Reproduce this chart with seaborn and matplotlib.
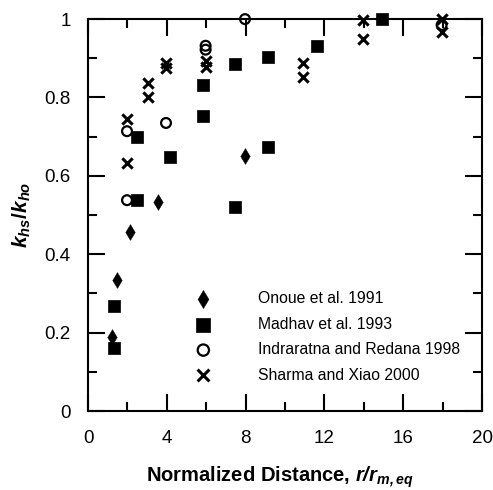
import matplotlib
matplotlib.use("Agg")
import matplotlib.pyplot as plt
import seaborn as sns
import pandas as pd
from matplotlib.ticker import MultipleLocator, FuncFormatter

# datos
onoue_x = [1.2, 1.46, 2.13, 3.54, 7.97]
onoue_y = [0.188, 0.334, 0.457, 0.533, 0.651]

madhav_x = [1.34, 1.34, 2.5, 2.5, 4.16, 5.82, 5.82, 7.48, 7.48, 9.15, 9.15, 11.64, 14.94]
madhav_y = [0.16, 0.268, 0.538, 0.70, 0.649, 0.753, 0.833, 0.885, 0.521, 0.904, 0.673, 0.932, 1.0]

indra_x = [1.98, 1.98, 3.96, 5.97, 5.97, 7.97, 17.95]
indra_y = [0.538, 0.714, 0.735, 0.932, 0.922, 1.0, 0.985]

sharma_x = [1.96, 1.96, 3.06, 3.06, 3.96, 3.96, 5.97, 5.97, 10.93, 10.93, 13.98, 13.98, 17.95, 17.95]
sharma_y = [0.744, 0.632, 0.838, 0.80, 0.887, 0.875, 0.894, 0.878, 0.887, 0.853, 0.999, 0.948, 1.0, 0.968]

series = ["Onoue et al. 1991", "Madhav et al. 1993",
          "Indraratna and Redana 1998", "Sharma and Xiao 2000"]

sns.set_style("ticks")
plt.rcParams['font.family'] = ['Liberation Sans', 'DejaVu Sans']
plt.rcParams['text.color'] = 'black'
plt.rcParams['axes.labelcolor'] = 'black'
plt.rcParams['xtick.color'] = 'black'
plt.rcParams['ytick.color'] = 'black'
plt.rcParams['axes.edgecolor'] = 'black'
plt.rcParams['mathtext.fontset'] = 'custom'
plt.rcParams['mathtext.rm'] = 'Liberation Sans'
plt.rcParams['mathtext.it'] = 'Liberation Sans:italic'
plt.rcParams['mathtext.bf'] = 'Liberation Sans:bold'
plt.rcParams['mathtext.bfit'] = 'Liberation Sans:bold:italic'

fig = plt.figure(figsize=(4.93, 4.9), dpi=100)
ax = fig.add_axes([0.1785, 0.1612, 0.7992, 0.7998])

df_on = pd.DataFrame({"x": onoue_x, "y": onoue_y})
df_ma = pd.DataFrame({"x": madhav_x, "y": madhav_y})
df_in = pd.DataFrame({"x": indra_x, "y": indra_y})
df_sh = pd.DataFrame({"x": sharma_x, "y": sharma_y})

sns.scatterplot(data=df_on, x="x", y="y", marker="d", s=65, color="black",
                edgecolor="black", linewidth=0.3, label=series[0], ax=ax, clip_on=False, zorder=3)
sns.scatterplot(data=df_ma, x="x", y="y", marker="s", s=80, color="black",
                edgecolor="black", linewidth=0.5, label=series[1], ax=ax, clip_on=False, zorder=3)
sns.scatterplot(data=df_in, x="x", y="y", marker="o", s=50, facecolor="none",
                edgecolor="black", linewidth=1.6, label=series[2], ax=ax, clip_on=False, zorder=3)
sns.scatterplot(data=df_sh, x="x", y="y", marker="x", s=55, color="black",
                linewidth=2.2, label=series[3], ax=ax, clip_on=False, zorder=3)

ax.set_xlim(0, 20)
ax.set_ylim(0, 1)
ax.xaxis.set_major_locator(MultipleLocator(4))
ax.xaxis.set_minor_locator(MultipleLocator(2))
ax.yaxis.set_major_locator(MultipleLocator(0.2))
ax.yaxis.set_minor_locator(MultipleLocator(0.1))
ax.yaxis.set_major_formatter(FuncFormatter(lambda v, p: f"{v:g}"))

ax.tick_params(which="both", direction="in", top=True, right=True, width=1.5,
               labelsize=13.5)
ax.tick_params(axis="x", which="both", pad=13.5)
ax.tick_params(axis="y", which="both", pad=12.5)
ax.tick_params(which="major", length=12)
ax.tick_params(which="minor", length=6.5)
for sp in ax.spines.values():
    sp.set_linewidth(1.5)
    sp.set_visible(True)

ax.set_xlabel(r"Normalized Distance, $\mathbfit{r/r}_{\mathbfit{m,eq}}$",
              fontsize=14.5, fontweight="bold")
ax.xaxis.set_label_coords(0.487, -0.137)
ax.set_ylabel(r"$\mathbfit{k}_{\mathbfit{hs}}\mathbf{/}\mathbfit{k}_{\mathbfit{ho}}$",
              fontsize=15, labelpad=8)

leg = ax.legend(loc="upper left", bbox_to_anchor=(0.233, 0.325), frameon=False,
                fontsize=11.3, handletextpad=2.5, labelspacing=0.66, borderpad=0,
                markerscale=1.15)

fig.savefig("out.png", dpi=100)
